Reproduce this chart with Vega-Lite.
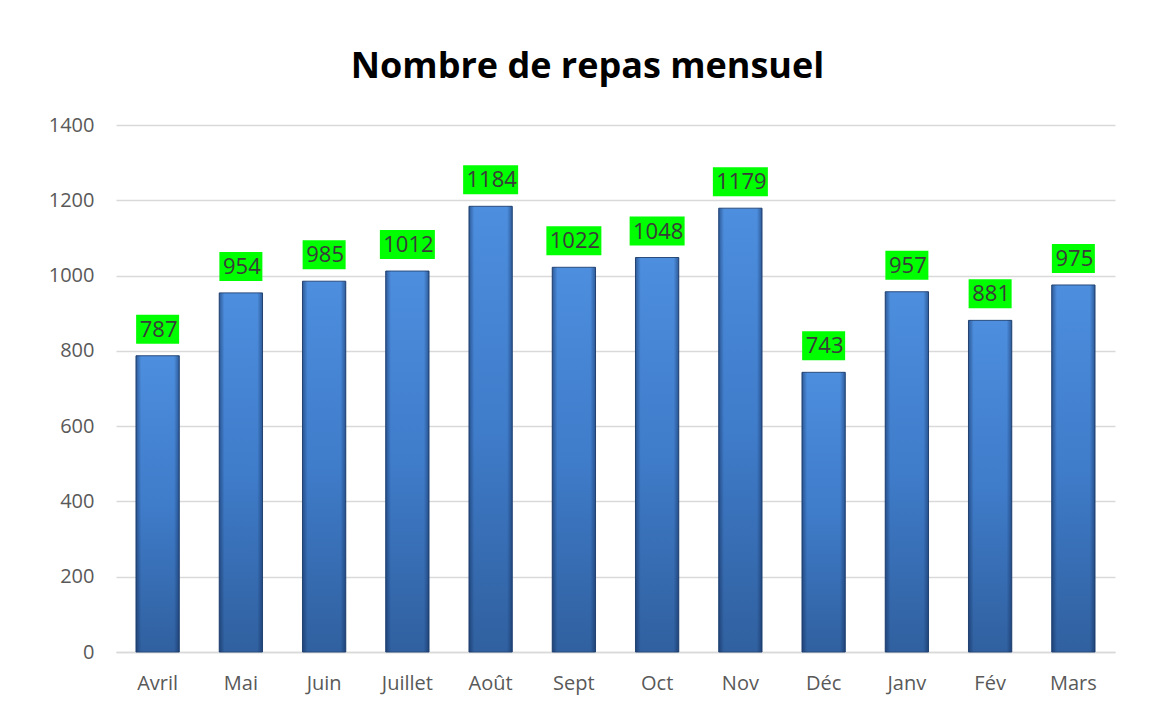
{
  "$schema": "https://vega.github.io/schema/vega-lite/v6.json",
  "autosize": {"type": "none"},
  "width": 999,
  "height": 527,
  "padding": {"left": 116, "top": 125, "right": 34, "bottom": 69},
  "background": "white",
  "config": {"view": {"stroke": null}},
  "title": {
    "text": "Nombre de repas mensuel",
    "font": "Open Sans",
    "fontSize": 36,
    "fontWeight": "bold",
    "color": "#000000",
    "anchor": "middle",
    "baseline": "alphabetic",
    "frame": "group",
    "offset": 1,
    "dx": -28
  },
  "data": {
    "values": [
      {"mois": "Avril", "repas": 787},
      {"mois": "Mai", "repas": 954},
      {"mois": "Juin", "repas": 985},
      {"mois": "Juillet", "repas": 1012},
      {"mois": "Août", "repas": 1184},
      {"mois": "Sept", "repas": 1022},
      {"mois": "Oct", "repas": 1048},
      {"mois": "Nov", "repas": 1179},
      {"mois": "Déc", "repas": 743},
      {"mois": "Janv", "repas": 957},
      {"mois": "Fév", "repas": 881},
      {"mois": "Mars", "repas": 975}
    ]
  },
  "encoding": {
    "x": {
      "field": "mois",
      "type": "nominal",
      "sort": null,
      "scale": {"paddingInner": 0.48, "paddingOuter": 0.24},
      "axis": {
        "title": null,
        "labelAngle": 0,
        "labelFont": "Open Sans",
        "labelFontSize": 20,
        "labelColor": "#595959",
        "labelPadding": 21,
        "ticks": false,
        "domain": true,
        "domainColor": "#d9d9d9",
        "domainWidth": 1.5
      }
    }
  },
  "layer": [
    {
      "mark": {
        "type": "bar",
        "stroke": "#2a4d7e",
        "strokeWidth": 1,
        "fill": {
          "gradient": "linear",
          "x1": 0, "y1": 0, "x2": 0, "y2": 1,
          "stops": [
            {"offset": 0, "color": "#4d8ede"},
            {"offset": 0.5, "color": "#3f7cca"},
            {"offset": 1, "color": "#30609f"}
          ]
        }
      },
      "encoding": {
        "y": {
          "field": "repas",
          "type": "quantitative",
          "scale": {"domain": [0, 1400]},
          "axis": {
            "title": null,
            "format": "d",
            "values": [0, 200, 400, 600, 800, 1000, 1200, 1400],
            "labelFont": "Open Sans",
            "labelFontSize": 20,
            "labelColor": "#595959",
            "labelPadding": 22,
            "ticks": false,
            "domain": false,
            "grid": true,
            "gridColor": "#d9d9d9",
            "gridWidth": 1.5
          }
        }
      }
    },
    {
      "mark": {
        "type": "bar",
        "fill": {
          "gradient": "linear",
          "x1": 0, "y1": 0, "x2": 1, "y2": 0,
          "stops": [
            {"offset": 0, "color": "rgba(10,30,70,0.45)"},
            {"offset": 0.12, "color": "rgba(10,30,70,0.0)"},
            {"offset": 0.88, "color": "rgba(10,30,70,0.0)"},
            {"offset": 1, "color": "rgba(10,30,70,0.45)"}
          ]
        }
      },
      "encoding": {
        "y": {"field": "repas", "type": "quantitative"}
      }
    },
    {
      "transform": [{"filter": "datum.repas < 1000"}],
      "mark": {"type": "bar", "color": "#00ff00", "width": 43, "yOffset": -12, "y2Offset": -41},
      "encoding": {
        "y": {"field": "repas", "type": "quantitative"},
        "y2": {"field": "repas"}
      }
    },
    {
      "transform": [{"filter": "datum.repas >= 1000"}],
      "mark": {"type": "bar", "color": "#00ff00", "width": 55, "yOffset": -12, "y2Offset": -41},
      "encoding": {
        "y": {"field": "repas", "type": "quantitative"},
        "y2": {"field": "repas"}
      }
    },
    {
      "mark": {
        "type": "text",
        "font": "Open Sans",
        "fontSize": 22,
        "color": "#3a3a3a",
        "baseline": "middle",
        "dy": -26,
        "dx": 1
      },
      "encoding": {
        "y": {"field": "repas", "type": "quantitative"},
        "text": {"field": "repas", "type": "quantitative"}
      }
    }
  ]
}
